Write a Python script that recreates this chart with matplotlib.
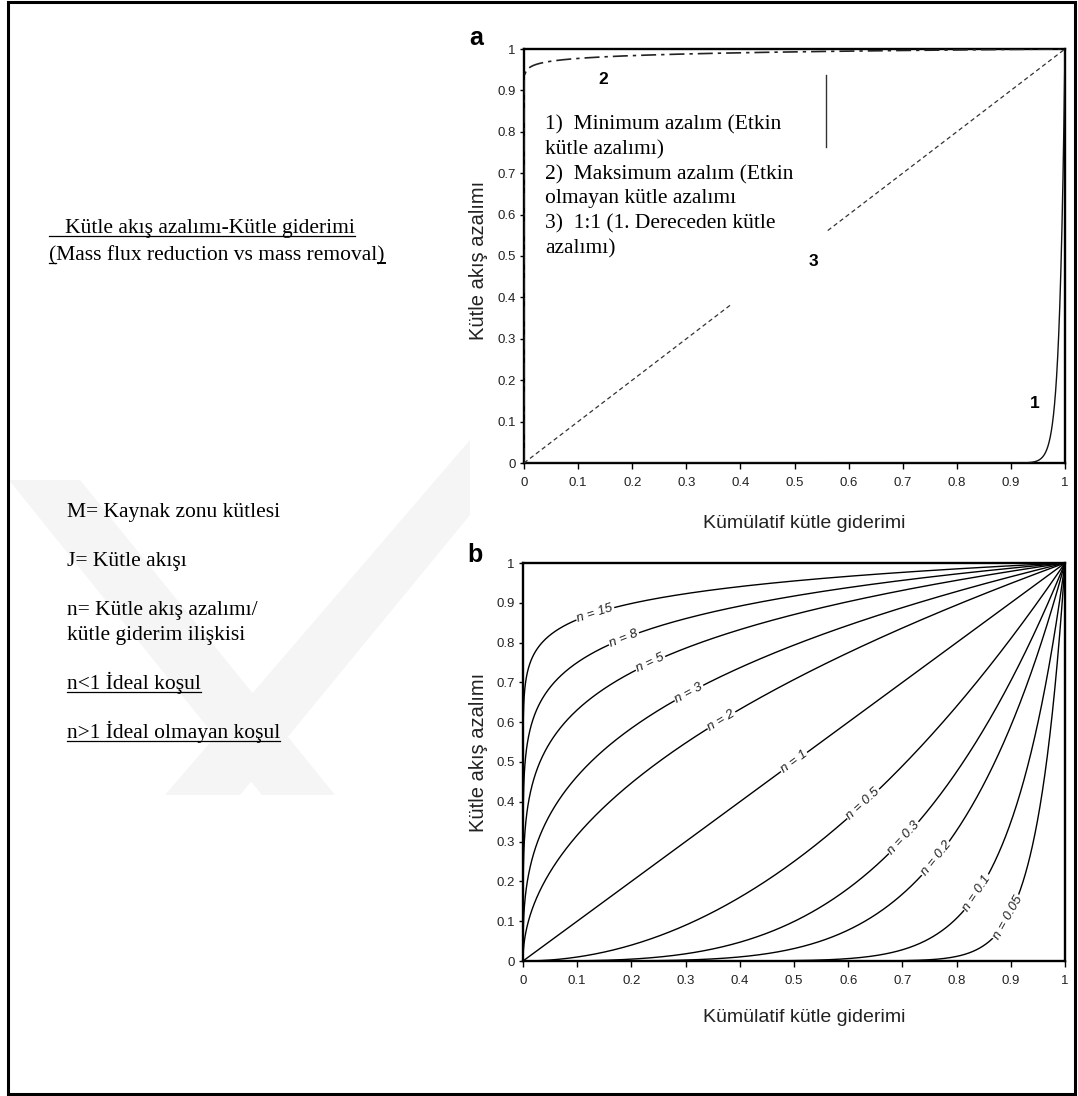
import numpy as np
import matplotlib
matplotlib.use("Agg")
import matplotlib.pyplot as plt
from matplotlib.patches import Rectangle, Polygon
from matplotlib.lines import Line2D

# ---------------- data ----------------
tick_values = [0, 0.1, 0.2, 0.3, 0.4, 0.5, 0.6, 0.7, 0.8, 0.9, 1]
tick_labels = ["0", "0.1", "0.2", "0.3", "0.4", "0.5", "0.6", "0.7", "0.8", "0.9", "1"]

# panel b: power-law family, labelled by n
n_values_b = [15, 8, 5, 3, 2, 1, 0.5, 0.3, 0.2, 0.1, 0.05]
n_labels_b = ["n = 15", "n = 8", "n = 5", "n = 3", "n = 2", "n = 1",
              "n = 0.5", "n = 0.3", "n = 0.2", "n = 0.1", "n = 0.05"]
n_label_x_b = [0.133, 0.186, 0.235, 0.306, 0.366, 0.5, 0.628, 0.703, 0.762, 0.838, 0.895]

# panel a: three reference cases
n_min_a = 0.01    # 1) minimum reduction (solid)
n_max_a = 100     # 2) maximum reduction (dash-dot)
n_lin_a = 1       # 3) 1:1 (dashed)

xlabel_txt = "Kümülatif kütle giderimi"
ylabel_txt = "Kütle akış azalımı"

# ---------------- figure ----------------
W, H = 1078, 1096
fig = plt.figure(figsize=(W / 100, H / 100), dpi=100)
fig.patch.set_facecolor("white")

def fx(px):
    return px / W

def fy(py):
    return 1 - py / H

narrow = ["Liberation Sans Narrow", "Liberation Sans", "DejaVu Sans"]
sans = ["Liberation Sans", "DejaVu Sans"]
serif = ["Liberation Serif", "DejaVu Serif"]

# faint watermark bands (background)
wm = "#f5f5f5"
for poly in [
    [(9, 480), (80, 480), (335, 795), (262, 795)],
    [(165, 795), (240, 795), (470, 515), (470, 440)],
]:
    fig.add_artist(Polygon([(fx(a), fy(b)) for a, b in poly], closed=True,
                           transform=fig.transFigure, fc=wm, ec="none", zorder=0))

x = np.unique(np.concatenate([
    [0.0],
    np.geomspace(1e-40, 1, 3000),
    np.linspace(0, 1, 3001),
    1 - np.geomspace(1e-9, 0.08, 1200),
]))
x = x[(x >= 0) & (x <= 1)]

def style_axes(ax):
    ax.set_xlim(0, 1)
    ax.set_ylim(0, 1)
    ax.set_xticks(tick_values)
    ax.set_yticks(tick_values)
    ax.set_xticklabels(tick_labels, fontfamily=narrow, fontsize=9.5, color="#222222")
    ax.set_yticklabels(tick_labels, fontfamily=narrow, fontsize=9.5, color="#222222")
    ax.tick_params(axis="x", direction="out", length=4, width=1, pad=6)
    ax.tick_params(axis="y", direction="out", length=3, width=1, pad=3)
    for s in ax.spines.values():
        s.set_linewidth(1.7)
        s.set_color("black")
    ax.set_facecolor("white")

# ---------------- panel a ----------------
axa = fig.add_axes([fx(524), fy(463), (1065 - 524) / W, (463 - 49) / H])
style_axes(axa)
axa.plot(x, x ** (1 / n_min_a), color="#111111", lw=1.0, zorder=3)
axa.plot(x, x ** (1 / n_max_a), color="#222222", lw=1.2, zorder=3,
         linestyle=(0, (9, 3, 2, 3)))
axa.plot(x, x ** (1 / n_lin_a), color="#333333", lw=0.9, zorder=3,
         linestyle=(0, (3.5, 2.5)))

# white text box hiding part of the 1:1 line
axa.add_patch(Rectangle((0.03, 0.384), 0.529, 0.57, transform=axa.transData,
                        fc="white", ec="none", zorder=4))
axa.add_line(Line2D([0.559, 0.559], [0.763, 0.937], color="#333333", lw=1.0, zorder=5))

box_lines = ["1)  Minimum azalım (Etkin", "kütle azalımı)",
             "2)  Maksimum azalım (Etkin", "olmayan kütle azalımı",
             "3)  1:1 (1. Dereceden kütle", "azalımı)"]
baselines = [129, 154, 179, 203, 228, 253]
for t, b in zip(box_lines, baselines):
    fig.text(fx(545), fy(b), t, fontfamily=serif, fontsize=15.5, ha="left",
             va="baseline", zorder=6)

for t, (px, py) in zip(["2", "3", "1"], [(603, 80), (813, 262), (1035, 403)]):
    fig.text(fx(px), fy(py), t, fontfamily=sans, fontweight="bold", fontsize=12.5,
             ha="center", va="center", zorder=6)

fig.text(fx(476), fy(45), "a", fontfamily=sans, fontweight="bold", fontsize=18,
         ha="center", va="baseline")
fig.text(fx(804), fy(523), xlabel_txt, fontfamily=narrow, fontsize=14,
         ha="center", va="center", color="#222222")
fig.text(fx(479), fy(260), ylabel_txt, fontfamily=sans, fontsize=14.5, rotation=90,
         ha="center", va="center", color="#222222")

# ---------------- panel b ----------------
axb = fig.add_axes([fx(523), fy(961), (1065 - 523) / W, (961 - 563) / H])
style_axes(axb)
for n, lab, lx in zip(n_values_b, n_labels_b, n_label_x_b):
    axb.plot(x, x ** (1 / n), color="black", lw=1.0, zorder=3)
    ly = lx ** (1 / n)
    p0 = axb.transData.transform((lx - 0.004, (lx - 0.004) ** (1 / n)))
    p1 = axb.transData.transform((lx + 0.004, (lx + 0.004) ** (1 / n)))
    ang = np.degrees(np.arctan2(p1[1] - p0[1], p1[0] - p0[0]))
    axb.text(lx, ly, lab, fontfamily=narrow, fontsize=9.5, style="italic",
             rotation=ang, rotation_mode="anchor", ha="center", va="center",
             zorder=5, color="#222222",
             bbox=dict(boxstyle="square,pad=0.1", fc="white", ec="none"))

fig.text(fx(475), fy(562), "b", fontfamily=sans, fontweight="bold", fontsize=18,
         ha="center", va="baseline")
fig.text(fx(804), fy(1017), xlabel_txt, fontfamily=narrow, fontsize=14,
         ha="center", va="center", color="#222222")
fig.text(fx(479), fy(752), ylabel_txt, fontfamily=sans, fontsize=14.5, rotation=90,
         ha="center", va="center", color="#222222")

# ---------------- left column text ----------------
left_items = [
    ("   Kütle akış azalımı-Kütle giderimi", 49, 233, "full"),
    ("(Mass flux reduction vs mass removal)", 49, 260, "ends"),
    ("M= Kaynak zonu kütlesi", 67, 517, None),
    ("J= Kütle akışı", 67, 566, None),
    ("n= Kütle akış azalımı/", 67, 615, None),
    ("kütle giderim ilişkisi", 67, 640, None),
    ("n<1 İdeal koşul", 67, 689, "full"),
    ("n>1 İdeal olmayan koşul", 67, 738, "full"),
]
texts = []
for t, px, py, ul in left_items:
    tt = fig.text(fx(px), fy(py), t, fontfamily=serif, fontsize=15.5,
                  ha="left", va="baseline")
    texts.append((tt, px, py, ul))

fig.canvas.draw()
renderer = fig.canvas.get_renderer()
for tt, px, py, ul in texts:
    if ul is None:
        continue
    bb = tt.get_window_extent(renderer)
    yline = fy(py + 3)
    if ul == "full":
        fig.add_artist(Line2D([fx(px), bb.x1 / W], [yline, yline], color="black",
                              lw=0.9, transform=fig.transFigure))
    else:
        fig.add_artist(Line2D([fx(px), fx(px + 7)], [yline, yline], color="black",
                              lw=0.9, transform=fig.transFigure))
        fig.add_artist(Line2D([bb.x1 / W - 7 / W, bb.x1 / W], [yline, yline],
                              color="black", lw=1.4, transform=fig.transFigure))

# outer frame
fig.add_artist(Rectangle((fx(8), fy(1094)), (1075 - 8) / W, (1094 - 2) / H,
                         transform=fig.transFigure, fill=False, lw=2.2,
                         ec="black", zorder=10))

fig.savefig("out.png", dpi=100, facecolor="white")
